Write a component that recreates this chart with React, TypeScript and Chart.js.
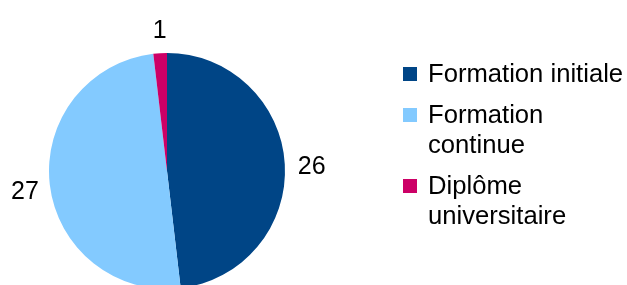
import React, { useEffect, useRef } from "react";
import { Chart, registerables } from "chart.js";

Chart.register(...registerables);

const categories = ["Formation initiale", "Formation continue", "Diplôme universitaire"];
const legendLines = [["Formation initiale"], ["Formation", "continue"], ["Diplôme", "universitaire"]];
const values = [26, 27, 1];
const colors = ["#004586", "#83CAFF", "#CC0066"];

const FONT = "25px 'Liberation Sans', Arial, sans-serif";

const labelPlugin = {
  id: "customLabels",
  afterDraw(chart: any) {
    const ctx = chart.ctx;
    const meta = chart.getDatasetMeta(0);
    ctx.save();
    ctx.font = FONT;
    ctx.fillStyle = "#000";
    ctx.textAlign = "center";
    ctx.textBaseline = "middle";
    meta.data.forEach((arc: any, i: number) => {
      const mid = (arc.startAngle + arc.endAngle) / 2;
      const r = arc.outerRadius + 26;
      const x = arc.x + Math.cos(mid) * r;
      const y = arc.y + Math.sin(mid) * r;
      ctx.fillText(String(values[i]), x + 1, y + 4);
    });
    // legend
    const boxX = 403;
    const boxSize = 14;
    const textX = 428;
    let baseline = 82;
    ctx.textAlign = "left";
    ctx.textBaseline = "alphabetic";
    legendLines.forEach((lines, i) => {
      ctx.fillStyle = colors[i];
      ctx.fillRect(boxX, baseline - 15, boxSize, boxSize);
      ctx.fillStyle = "#000";
      lines.forEach((ln, j) => {
        ctx.save();
        ctx.translate(textX, baseline + j * 30);
        ctx.scale(1.025, 1);
        ctx.fillText(ln, 0, 0);
        ctx.restore();
      });
      baseline += (lines.length - 1) * 30 + 41;
    });
    ctx.restore();
  },
};

export default function App() {
  const ref = useRef<HTMLCanvasElement>(null);
  useEffect(() => {
    if (!ref.current) return;
    const chart = new Chart(ref.current, {
      type: "pie",
      data: {
        labels: categories,
        datasets: [
          {
            data: values,
            backgroundColor: colors,
            borderWidth: 0,
            hoverOffset: 0,
          },
        ],
      },
      options: {
        responsive: false,
        animation: false,
        layout: { padding: { left: 49, top: 53, right: 342, bottom: 11 } },
        plugins: {
          legend: { display: false },
          tooltip: { enabled: false },
        },
      },
      plugins: [labelPlugin],
    });
    return () => chart.destroy();
  }, []);
  return (
    <div style={{ position: "absolute", left: 0, top: 0, width: 627, height: 285, overflow: "hidden", background: "#fff" }}>
      <canvas ref={ref} width={627} height={300} style={{ display: "block" }} />
    </div>
  );
}
